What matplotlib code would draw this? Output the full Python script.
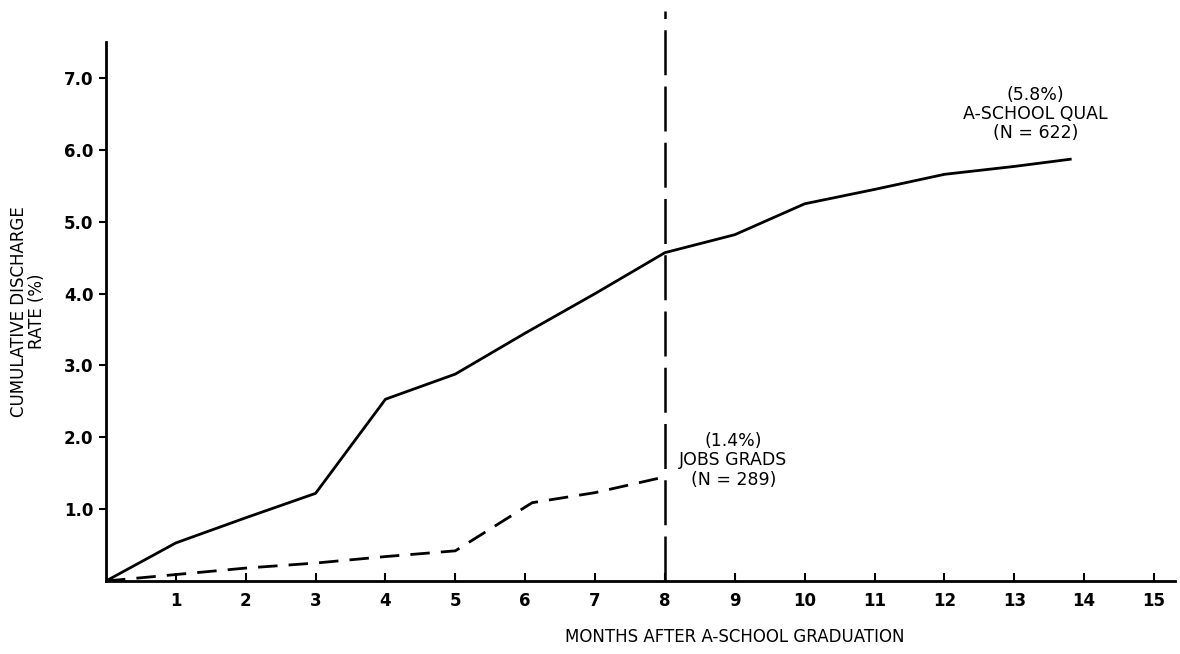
import numpy as np
from matplotlib import pyplot as plt

# A-School qualified (solid) and JOBS grads (dashed), cumulative discharge rate (%)
months_qual = [0, 1, 2, 3, 4, 5, 6, 7, 8, 9, 10, 11, 12, 13, 13.8]
rate_qual = [0, 0.53, 0.88, 1.22, 2.53, 2.88, 3.45, 4.0, 4.57, 4.82, 5.25, 5.45, 5.66, 5.77, 5.87]

months_jobs = [0, 1, 2, 3, 4, 5, 6.1, 7, 8]
rate_jobs = [0, 0.09, 0.18, 0.25, 0.34, 0.42, 1.09, 1.23, 1.45]

x_ticks = list(range(1, 16))
y_ticks = [1.0, 2.0, 3.0, 4.0, 5.0, 6.0, 7.0]
cutoff_month = 8

plt.rcParams['font.family'] = ['DejaVu Sans']

fig = plt.figure(figsize=(11.8, 6.54), dpi=100)
ax = fig.add_axes([0.0898, 0.1116, 0.906, 0.824])

ax.plot(np.array(months_qual), np.array(rate_qual), color='black', lw=2)
ax.plot(np.array(months_jobs), np.array(rate_jobs), color='black', lw=2,
        dashes=(7, 4))
# vertical divider at month 8, runs past the top of the axes
ax.plot([cutoff_month, cutoff_month], [0, 7.93], color='black', lw=1.8,
        dashes=(18, 4.5), clip_on=False)

ax.set_xlim(0, 15.3)
ax.set_ylim(0, 7.5)
ax.set_xticks(x_ticks)
ax.set_yticks(y_ticks)
ax.set_xticklabels([str(m) for m in x_ticks], fontsize=12, fontweight='bold')
ax.set_yticklabels(['%.1f' % v for v in y_ticks], fontsize=12, fontweight='bold')
ax.tick_params(axis='x', direction='in', length=6, width=1.5, pad=8)
ax.tick_params(axis='y', direction='out', length=5, width=1.5, pad=4)

for side in ['top', 'right']:
    ax.spines[side].set_visible(False)
for side in ['left', 'bottom']:
    ax.spines[side].set_linewidth(2)

ax.set_ylabel('CUMULATIVE DISCHARGE\nRATE (%)', fontsize=12, linespacing=1.0)
ax.yaxis.set_label_coords(-0.056, 0.5)
ax.text(9.0, -0.78, 'MONTHS AFTER A-SCHOOL GRADUATION', fontsize=12,
        ha='center', va='center')

ax.text(13.3, 6.5, '(5.8%)\nA-SCHOOL QUAL\n(N = 622)', fontsize=12.5,
        ha='center', va='center', linespacing=1.1)
ax.text(8.98, 1.68, '(1.4%)\nJOBS GRADS\n(N = 289)', fontsize=12.5,
        ha='center', va='center', linespacing=1.1)

fig.savefig('out.png', dpi=100)
